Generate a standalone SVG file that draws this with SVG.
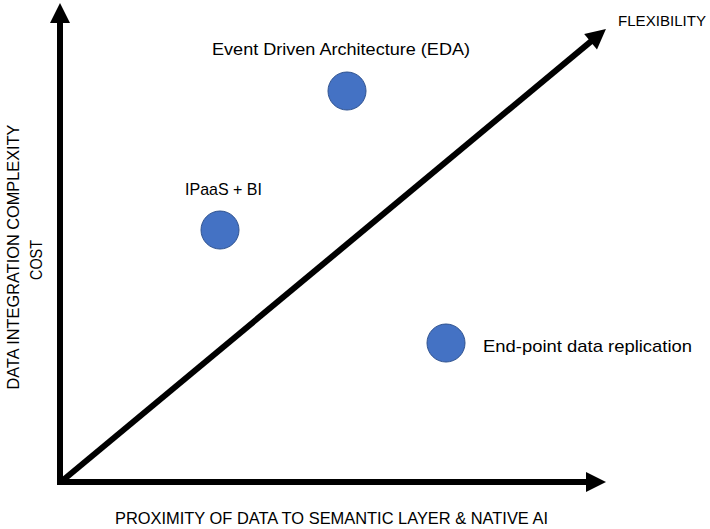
<svg xmlns="http://www.w3.org/2000/svg" width="710" height="529" viewBox="0 0 710 529">
<style>
  .lbl { font-family: "Liberation Sans", Arial, sans-serif; font-size: 17px; fill: #000; }
  .axis { stroke: #000; stroke-width: 6; fill: none; }
  .dot { fill: #4472C4; stroke: #2F528F; stroke-width: 1; }
</style>
<defs>
  <marker id="ah" markerUnits="userSpaceOnUse" markerWidth="20" markerHeight="20" refX="6" refY="10" orient="auto" overflow="visible">
    <path d="M0,0 L20,10 L0,20 z" fill="#000"/>
  </marker>
</defs>
<rect width="710" height="529" fill="#fff"/>
<g id="connectors">
  <line class="axis" x1="60" y1="485" x2="60" y2="17" marker-end="url(#ah)"/>
  <line class="axis" x1="57" y1="482" x2="592" y2="482" marker-end="url(#ah)"/>
  <line class="axis" x1="62" y1="481" x2="595.2" y2="37.9" marker-end="url(#ah)"/>
</g>
<g id="axis-labels">
  <text class="lbl" x="618" y="26" style="font-size:15px" textLength="88" lengthAdjust="spacingAndGlyphs">FLEXIBILITY</text>
  <text class="lbl" x="115" y="524" textLength="433" lengthAdjust="spacingAndGlyphs">PROXIMITY OF DATA TO SEMANTIC LAYER &amp; NATIVE AI</text>
  <text class="lbl" transform="translate(19,257) rotate(-90)" x="0" y="0" text-anchor="middle" textLength="265" lengthAdjust="spacingAndGlyphs">DATA INTEGRATION COMPLEXITY</text>
  <text class="lbl" transform="translate(42,260) rotate(-90)" x="0" y="0" text-anchor="middle" textLength="40" lengthAdjust="spacingAndGlyphs">COST</text>
</g>
<g id="node-eda">
  <circle class="dot" cx="347" cy="91" r="19"/>
  <text class="lbl" x="212" y="55" textLength="258" lengthAdjust="spacingAndGlyphs">Event Driven Architecture (EDA)</text>
</g>
<g id="node-ipaas">
  <circle class="dot" cx="220" cy="230" r="19"/>
  <text class="lbl" x="185" y="195" textLength="77" lengthAdjust="spacingAndGlyphs">IPaaS + BI</text>
</g>
<g id="node-endpoint">
  <circle class="dot" cx="446" cy="343" r="19"/>
  <text class="lbl" x="483" y="352" textLength="209" lengthAdjust="spacingAndGlyphs">End-point data replication</text>
</g>
</svg>
